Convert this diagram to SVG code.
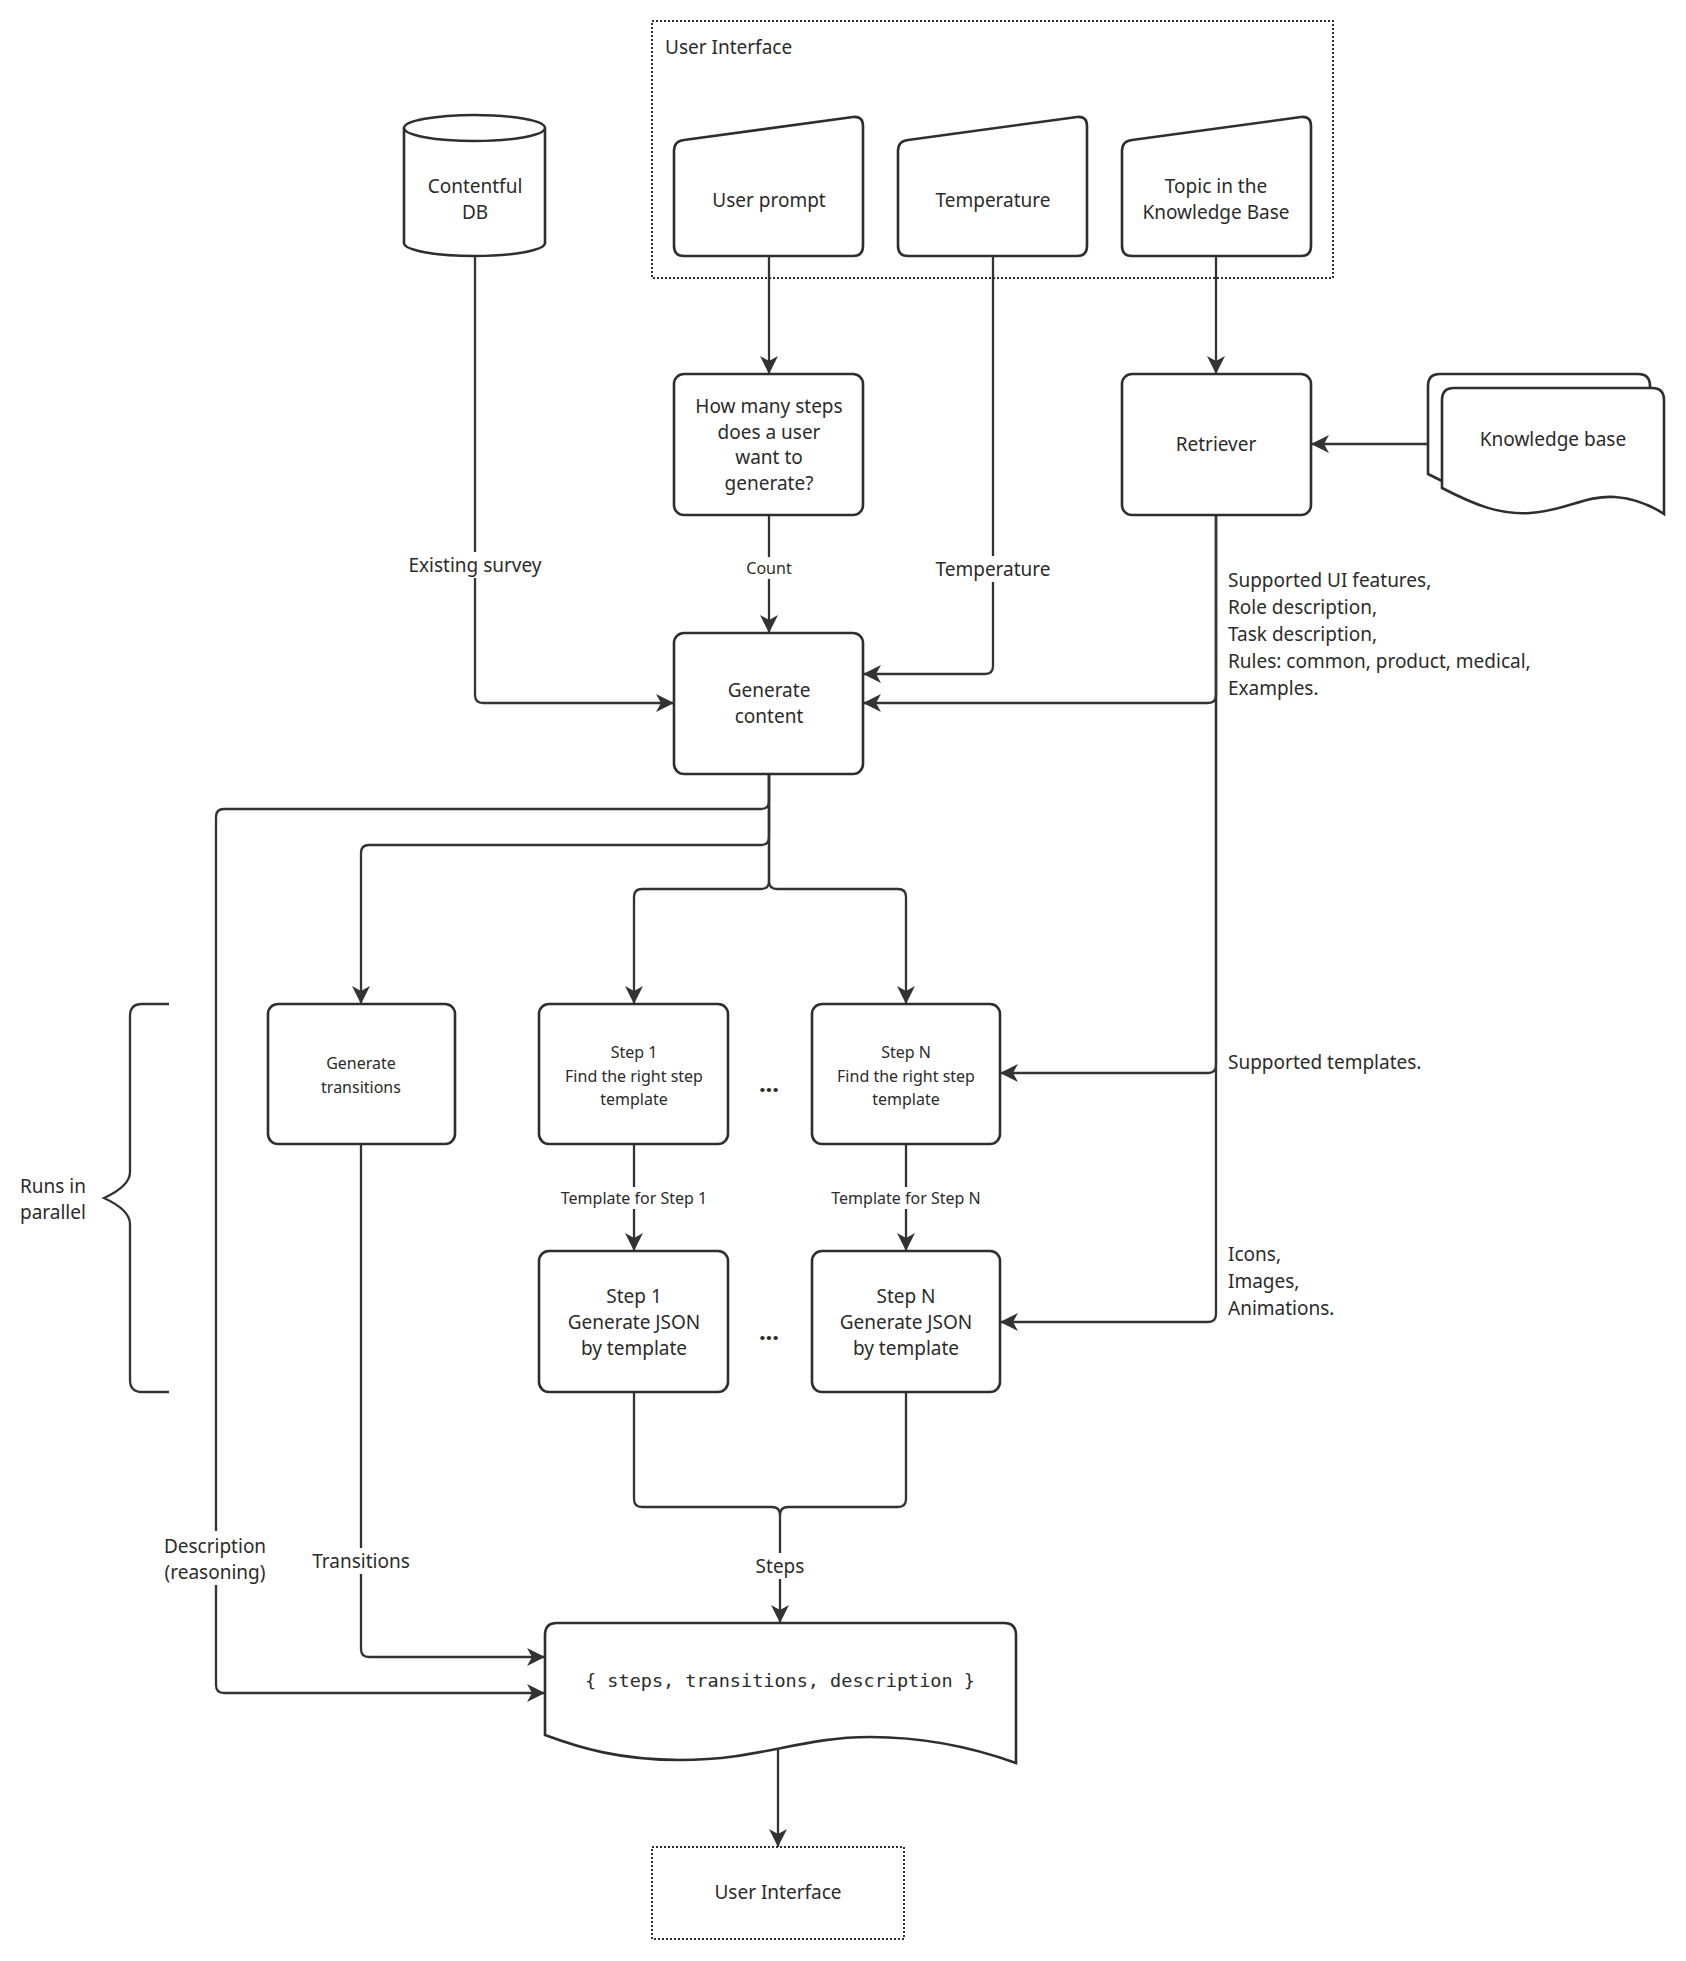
<svg xmlns="http://www.w3.org/2000/svg" width="1686" height="1961" viewBox="0 0 1686 1961">
<style>
.node{fill:#fff;stroke:#2e2e2e;stroke-width:2.6}
.frame{fill:none;stroke:#2e2e2e;stroke-width:2;stroke-dasharray:2 2}
.edge{fill:none;stroke:#333;stroke-width:2.3}
.arr{marker-end:url(#ah)}
.bg{fill:#fff;stroke:none}
text{font-family:"Noto Sans","Open Sans","DejaVu Sans",sans-serif;fill:#2b2b2b;font-size:19px;text-anchor:middle;dominant-baseline:central}
.sm{font-size:16px}
.left{text-anchor:start}
.dots{font-size:24px;font-weight:bold}
.mono{font-family:"DejaVu Sans Mono","Liberation Mono",monospace;font-size:18.5px}
</style>
<defs>
<marker id="ah" viewBox="0 0 18 18" refX="18" refY="9" markerWidth="18" markerHeight="18" orient="auto" markerUnits="userSpaceOnUse">
<path d="M0,0 L18,9 L0,18 L5,9 Z" fill="#333"/>
</marker>
</defs>
<rect width="1686" height="1961" fill="#fff"/>

<g id="connectors">
<path class="edge arr" d="M769,256 V374"/>
<path class="edge arr" d="M769,515 V633"/>
<path class="edge arr" d="M993,256 V666 Q993,674 985,674 H863"/>
<path class="edge arr" d="M1216,256 V374"/>
<path class="edge arr" d="M475,256 V695 Q475,703 483,703 H674"/>
<path class="edge arr" d="M1428,444 H1311"/>
<path class="edge arr" d="M1216,515 V695 Q1216,703 1208,703 H863"/>
<path class="edge arr" d="M1216,515 V1065 Q1216,1073 1208,1073 H1000"/>
<path class="edge arr" d="M1216,515 V1314 Q1216,1322 1208,1322 H1000"/>
<path class="edge arr" d="M769,774 V801 Q769,809 761,809 H224 Q216,809 216,817 V1685 Q216,1693 224,1693 H545"/>
<path class="edge arr" d="M769,774 V837 Q769,845 761,845 H369 Q361,845 361,853 V1004"/>
<path class="edge arr" d="M769,774 V881 Q769,889 761,889 H642 Q634,889 634,897 V1004"/>
<path class="edge arr" d="M769,774 V881 Q769,889 777,889 H898 Q906,889 906,897 V1004"/>
<path class="edge arr" d="M361,1144 V1649 Q361,1657 369,1657 H545"/>
<path class="edge arr" d="M634,1144 V1251"/>
<path class="edge arr" d="M906,1144 V1251"/>
<path class="edge arr" d="M634,1392 V1499 Q634,1507 642,1507 H772 Q780,1507 780,1515 V1623"/>
<path class="edge" d="M906,1392 V1499 Q906,1507 898,1507 H788 Q780,1507 780,1515"/>
<path class="edge arr" d="M778,1745 V1847"/>

<rect class="bg" x="408" y="552" width="134" height="26"/>
<text x="475" y="565">Existing survey</text>
<rect class="bg" x="744" y="557" width="50" height="22"/>
<text class="sm" x="769" y="568">Count</text>
<rect class="bg" x="935" y="556" width="116" height="26"/>
<text x="993" y="569">Temperature</text>
<text class="left" x="1228" y="580">Supported UI features,</text>
<text class="left" x="1228" y="607">Role description,</text>
<text class="left" x="1228" y="634">Task description,</text>
<text class="left" x="1228" y="661">Rules: common, product, medical,</text>
<text class="left" x="1228" y="688">Examples.</text>
<text class="left" x="1228" y="1062">Supported templates.</text>
<text class="left" x="1228" y="1254">Icons,</text>
<text class="left" x="1228" y="1281">Images,</text>
<text class="left" x="1228" y="1308">Animations.</text>
<rect class="bg" x="558" y="1187" width="152" height="22"/>
<text class="sm" x="634" y="1198">Template for Step 1</text>
<rect class="bg" x="829" y="1187" width="154" height="22"/>
<text class="sm" x="906" y="1198">Template for Step N</text>
<rect class="bg" x="163" y="1531" width="104" height="54"/>
<text x="215" y="1546">Description</text>
<text x="215" y="1572">(reasoning)</text>
<rect class="bg" x="310" y="1548" width="102" height="26"/>
<text x="361" y="1561">Transitions</text>
<rect class="bg" x="752" y="1553" width="56" height="26"/>
<text x="780" y="1566">Steps</text>
</g>

<g id="ui-frame">
<rect class="frame" x="652" y="21" width="681" height="257"/>
<text class="left" x="665" y="47">User Interface</text>
</g>

<g id="user-prompt">
<path class="node" d="M674,151 Q674,141 684,140 L853,117 Q863,116 863,126 V246 Q863,256 853,256 H684 Q674,256 674,246 Z"/>
<text x="769" y="200">User prompt</text>
</g>
<g id="temperature">
<path class="node" d="M898,151 Q898,141 908,140 L1077,117 Q1087,116 1087,126 V246 Q1087,256 1077,256 H908 Q898,256 898,246 Z"/>
<text x="993" y="200">Temperature</text>
</g>
<g id="topic">
<path class="node" d="M1122,151 Q1122,141 1132,140 L1301,117 Q1311,116 1311,126 V246 Q1311,256 1301,256 H1132 Q1122,256 1122,246 Z"/>
<text x="1216" y="186">Topic in the</text>
<text x="1216" y="212">Knowledge Base</text>
</g>

<g id="contentful-db">
<path class="node" d="M404,128 A70.5,13 0 0 1 545,128 V243 A70.5,13 0 0 1 404,243 Z"/>
<path class="node" d="M404,128 A70.5,13 0 0 0 545,128" fill="none"/>
<text x="475" y="186">Contentful</text>
<text x="475" y="212">DB</text>
</g>

<g id="how-many">
<rect class="node" x="674" y="374" width="189" height="141" rx="10"/>
<text x="769" y="406">How many steps</text>
<text x="769" y="432">does a user</text>
<text x="769" y="457">want to</text>
<text x="769" y="483">generate?</text>
</g>

<g id="retriever">
<rect class="node" x="1122" y="374" width="189" height="141" rx="10"/>
<text x="1216" y="444">Retriever</text>
</g>

<g id="knowledge-base">
<path class="node" transform="translate(-14,-14)" d="M1442,400 Q1442,388 1454,388 H1652 Q1664,388 1664,400 V514 C1655,508 1640,499 1615,497 C1585,495 1565,511 1530,513 C1500,515 1475,505 1442,488 Z"/>
<path class="node" d="M1442,400 Q1442,388 1454,388 H1652 Q1664,388 1664,400 V514 C1655,508 1640,499 1615,497 C1585,495 1565,511 1530,513 C1500,515 1475,505 1442,488 Z"/>
<text x="1553" y="439">Knowledge base</text>
</g>

<g id="generate-content">
<rect class="node" x="674" y="633" width="189" height="141" rx="10"/>
<text x="769" y="690">Generate</text>
<text x="769" y="716">content</text>
</g>

<g id="generate-transitions">
<rect class="node" x="268" y="1004" width="187" height="140" rx="10"/>
<text class="sm" x="361" y="1063">Generate</text>
<text class="sm" x="361" y="1087">transitions</text>
</g>

<g id="step1-find">
<rect class="node" x="539" y="1004" width="189" height="140" rx="10"/>
<text class="sm" x="634" y="1052">Step 1</text>
<text class="sm" x="634" y="1076">Find the right step</text>
<text class="sm" x="634" y="1099">template</text>
</g>

<g id="stepn-find">
<rect class="node" x="812" y="1004" width="188" height="140" rx="10"/>
<text class="sm" x="906" y="1052">Step N</text>
<text class="sm" x="906" y="1076">Find the right step</text>
<text class="sm" x="906" y="1099">template</text>
</g>

<g id="step1-gen">
<rect class="node" x="539" y="1251" width="189" height="141" rx="10"/>
<text x="634" y="1296">Step 1</text>
<text x="634" y="1322">Generate JSON</text>
<text x="634" y="1348">by template</text>
</g>

<g id="stepn-gen">
<rect class="node" x="812" y="1251" width="188" height="141" rx="10"/>
<text x="906" y="1296">Step N</text>
<text x="906" y="1322">Generate JSON</text>
<text x="906" y="1348">by template</text>
</g>

<g id="ellipsis">
<text class="dots" x="769" y="1082">...</text>
<text class="dots" x="769" y="1330">...</text>
</g>

<g id="parallel-brace">
<path class="edge" d="M169,1004 H142 Q130,1004 130,1016 V1172 Q130,1186 104,1198 Q130,1210 130,1224 V1380 Q130,1392 142,1392 H169"/>
<text class="left" x="20" y="1186">Runs in</text>
<text class="left" x="20" y="1212">parallel</text>
</g>

<g id="output">
<path class="node" d="M545,1635 Q545,1623 557,1623 H1004 Q1016,1623 1016,1635 V1763 C980,1750 930,1737 870,1737 C800,1737 760,1760 680,1760 C620,1760 580,1748 545,1735 Z"/>
<text class="mono" x="780" y="1680">{ steps, transitions, description }</text>
</g>

<g id="user-interface-out">
<rect class="frame" x="652" y="1847" width="252" height="92"/>
<text x="778" y="1892">User Interface</text>
</g>
</svg>
